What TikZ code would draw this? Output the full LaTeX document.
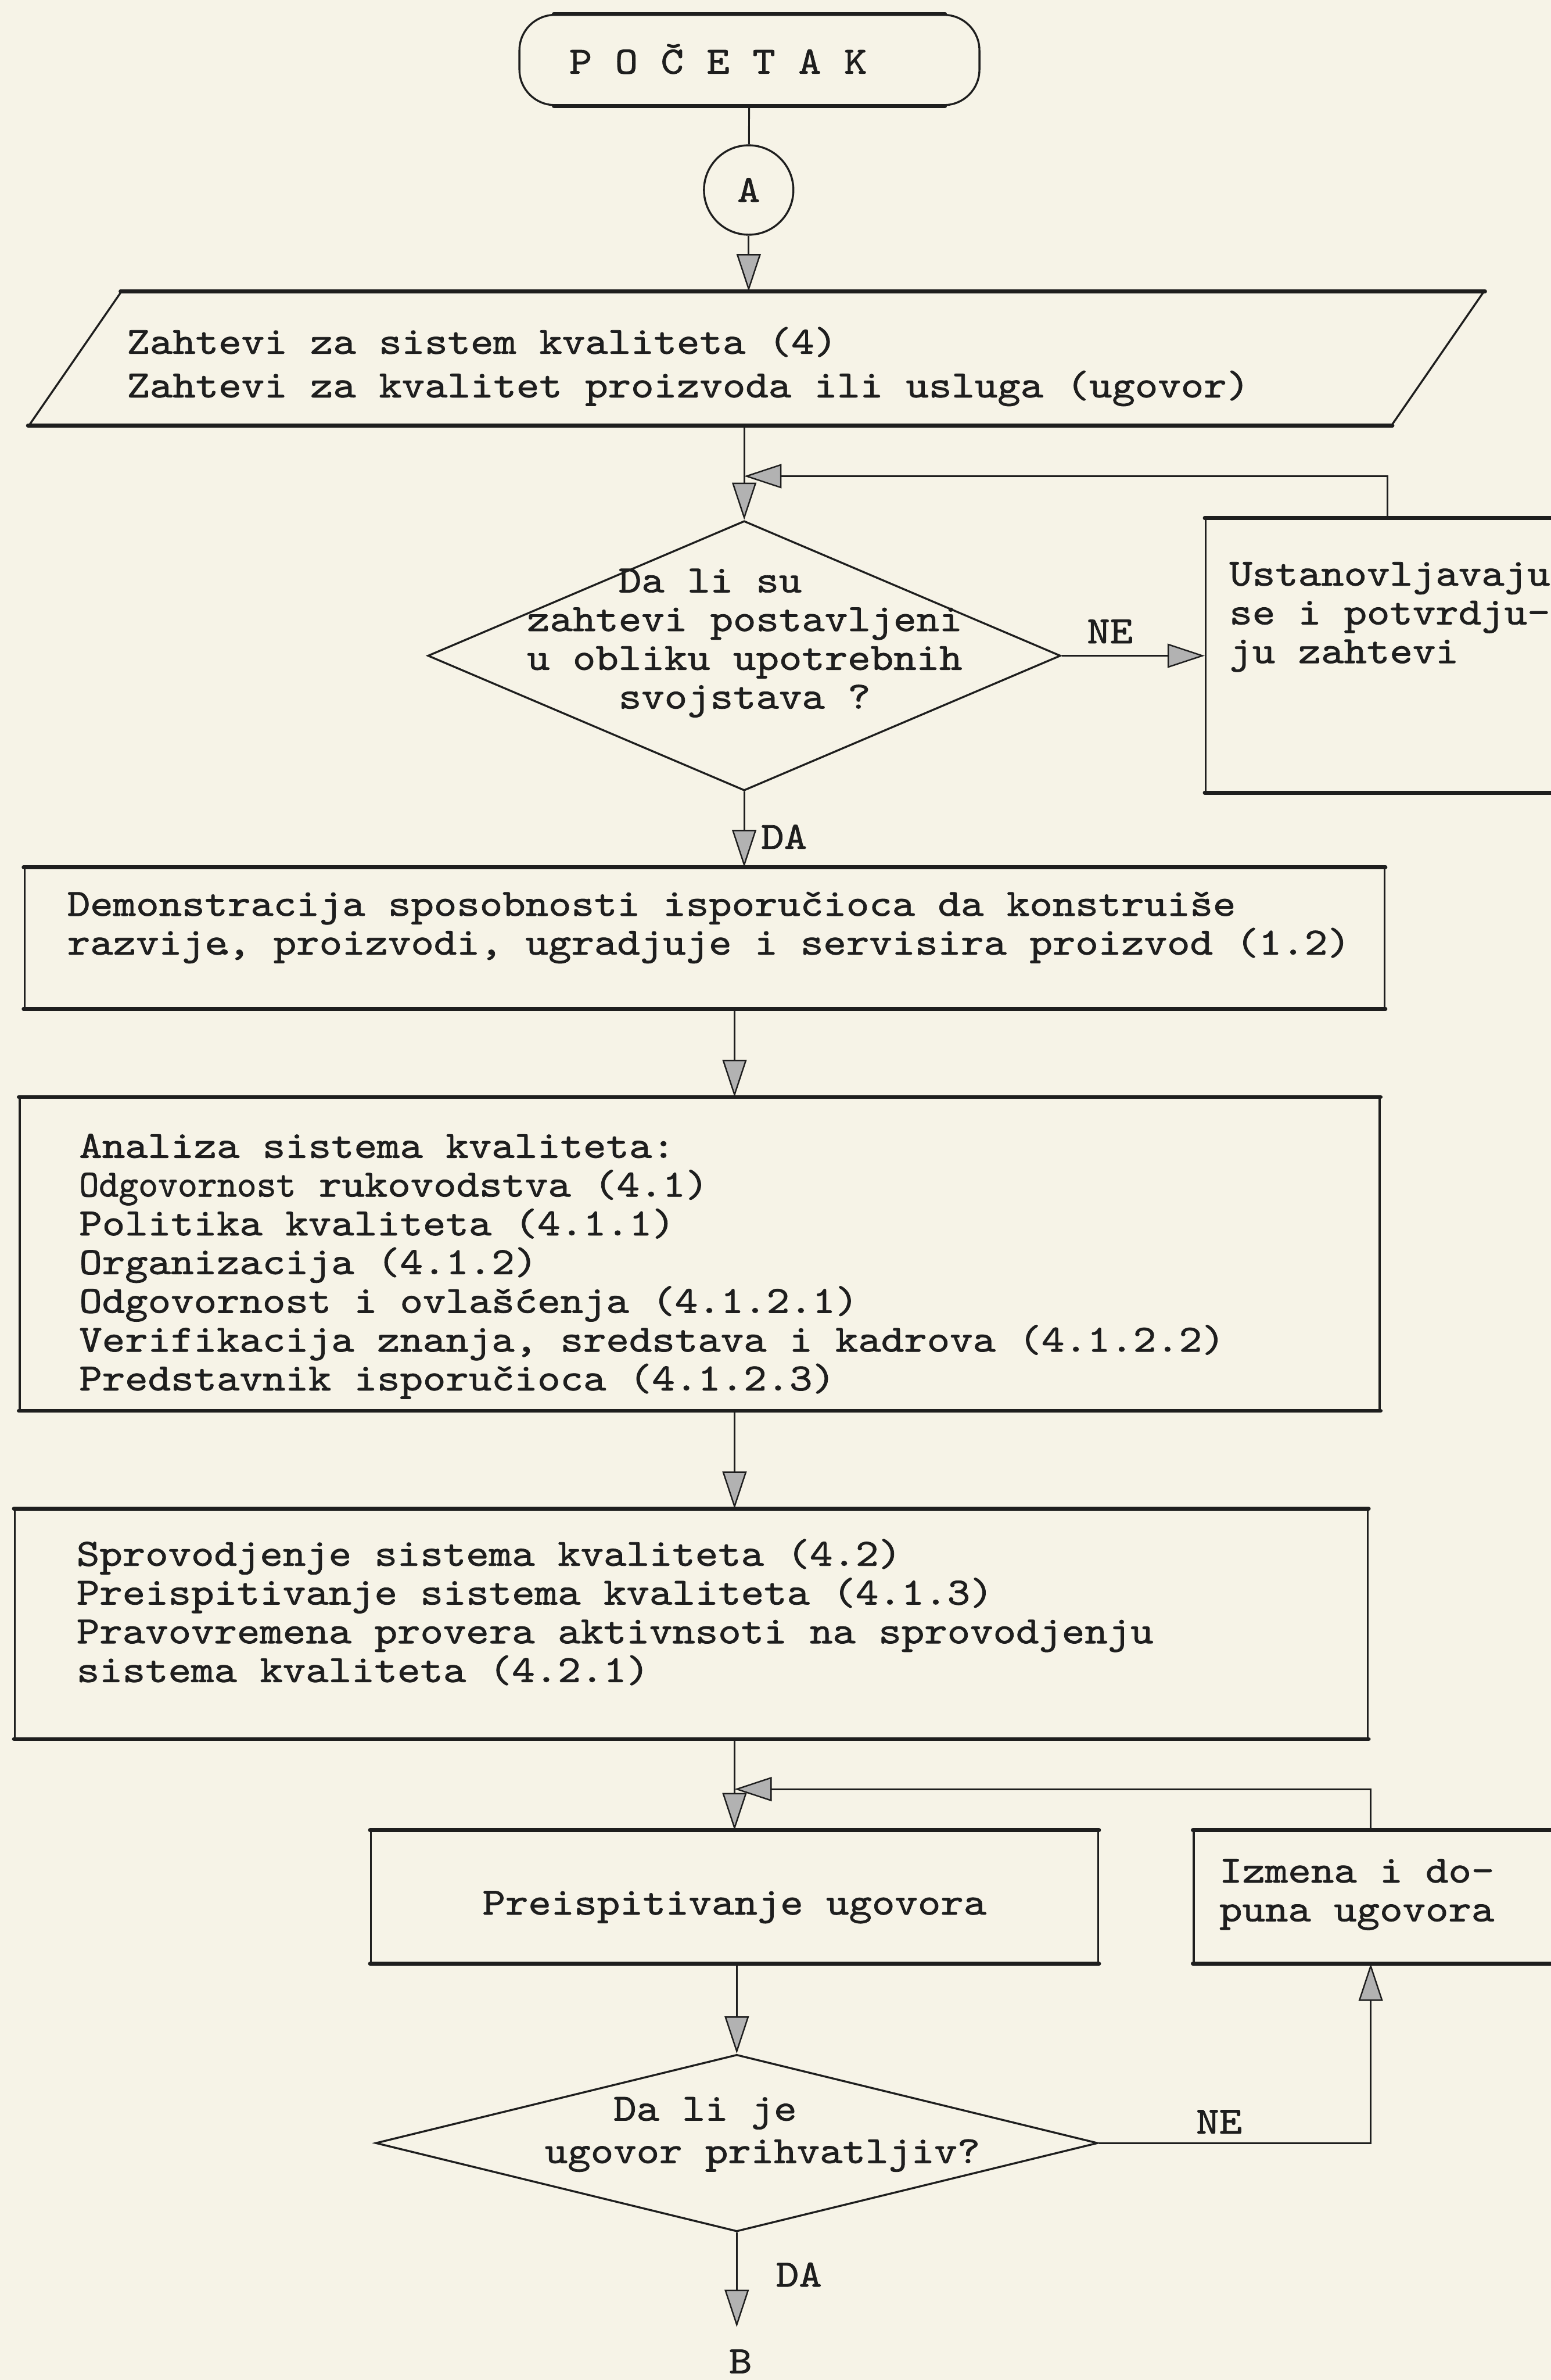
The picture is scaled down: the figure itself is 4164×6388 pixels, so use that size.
\documentclass[tikz,border=0pt]{standalone}
\usepackage{fontspec}
\setmonofont{lmmono10-regular.otf}[FakeStretch=1.134, FakeBold=1.2]
\usepackage{graphicx}
\usetikzlibrary{shapes.geometric,arrows.meta,calc}
\definecolor{paper}{RGB}{246,243,231}
\definecolor{ink}{RGB}{30,30,30}
\newcommand\typefont{\ttfamily\fontsize{29.4pt}{29.6pt}\selectfont}
\tikzset{
  box/.style={draw=ink, line width=1.5pt, inner sep=0pt},
  heavy/.style={draw=ink, line width=3pt, line cap=round},
  flowline/.style={draw=ink, line width=1.3pt},
  arrowline/.style={flowline, -{Triangle[length=10mm,width=6.5mm,fill=gray!60,line width=1.1pt]}},
  txt/.style={inner sep=0pt, align=left, anchor=west, text=ink, font=\typefont},
  lbl/.style={inner sep=0pt, text=ink, font=\typefont},
}
\begin{document}
\begin{tikzpicture}[x=0.1mm,y=-0.1mm]
\fill[paper] (0,0) rectangle (4164,6388);
\useasboundingbox (0,0) rectangle (4164,6388);
\clip (0,0) rectangle (4164,6388);

% start and connector A
\node[box, rectangle, rounded corners=9.5mm, minimum width=123.5mm, minimum height=24.2mm] (start) at (2012,161) {};
\node[lbl] (start-t) at (1928,158) {P O Č E T A K};
\node[box, circle, minimum size=24mm, font=\typefont, text=ink] (A) at (2010,510) {A};

% input: requirements (slanted box)
\node[box, rectangle, xslant=0.69, transform shape, minimum width=365.8mm, minimum height=35.5mm] (req) at (2031,962) {};
\node[txt] (req-t) at (340,984) {Zahtevi za sistem kvaliteta (4)\\[1.3mm]Zahtevi za kvalitet proizvoda ili usluga (ugovor)};

% first decision
\node[box, diamond, minimum width=169.9mm, minimum height=72.4mm] (q1) at (1998,1760) {};
\node[txt] (q1-t) at (1414,1726) {\phantom{xxxx}Da li su\\zahtevi postavljeni\\u obliku upotrebnih\\\phantom{xxxx}svojstava ?};

\node[box, rectangle, minimum width=116.3mm, minimum height=73.2mm] (fix1) at (3818.5,1759) {};
\node[txt] (fix1-t) at (3300,1656) {Ustanovljavaju\\se i potvrdju-\\ju zahtevi};

\node[lbl] (ne1) at (2980,1695) {NE};
\node[lbl] (da1) at (2105,2246) {DA};

% process boxes
\node[box, rectangle, minimum width=365.1mm, minimum height=37.5mm] (demo) at (1891.5,2517.5) {};
\node[txt] (demo-t) at (180,2489) {Demonstracija sposobnosti isporučioca da konstruiše\\razvije\rlap{\kern-0.37em.}, proizvodi, ugradjuje i servisira proizvod (1.2)};

\node[box, rectangle, minimum width=365.1mm, minimum height=83.7mm] (anal) at (1878.5,3365.5) {};
\node[txt] (anal-t) at (212,3399) {Analiza sistema kvaliteta:\\\scalebox{0.86}[1]{Odgovornost} rukovodstva (4.1)\\Politika kvaliteta (4.1.1)\\Organizacija (4.1.2)\\Odgovornost i ovlašćenja (4.1.2.1)\\Verifikacija znanja, sredstava i kadrova (4.1.2.2)\\Predstavnik isporučioca (4.1.2.3)};

\node[box, rectangle, minimum width=363.2mm, minimum height=61.3mm] (sprov) at (1856,4358.5) {};
\node[txt] (sprov-t) at (205,4327) {Sprovodjenje sistema kvaliteta (4.2)\\Preispitivanje sistema kvaliteta (4.1.3)\\Pravovremena provera aktivnsoti na sprovodjenju\\sistema kvaliteta (4.2.1)};

\node[box, rectangle, minimum width=195.2mm, minimum height=35.3mm] (rev) at (1972,5091.5) {};
\node[lbl] (rev-t) at (1972,5119) {Preispitivanje ugovora};

\node[box, rectangle, minimum width=119.5mm, minimum height=35.3mm] (amend) at (3802.5,5091.5) {};
\node[txt] (amend-t) at (3273,5085) {Izmena i do-\\puna ugovora};

% second decision
\node[box, diamond, minimum width=193.9mm, minimum height=47.5mm] (q2) at (1978,5752) {};
\node[txt] (q2-t) at (1462,5729) {\phantom{xxx}Da li je\\[1mm]ugovor prihvatljiv?};
\node[lbl] (ne2) at (3273,5695) {NE};
\node[lbl] (da2) at (2145,6105) {DA};
\node[lbl] (B) at (1988,6338) {B};

% heavier horizontal edges of the boxes
\foreach \n in {req,fix1,demo,anal,sprov,rev,amend}
  \draw[heavy] (\n.north west) -- (\n.north east) (\n.south west) -- (\n.south east);
\draw[heavy] ([xshift=9.5mm]start.north west) -- ([xshift=-9.5mm]start.north east)
             ([xshift=9.5mm]start.south west) -- ([xshift=-9.5mm]start.south east);

% connectors
\coordinate (fb1) at (3725,1278);
\coordinate (fb2) at (3680,4802);
\draw[flowline] (start) -- (A);
\draw[arrowline] (A) -- (A |- req.north);
\draw[arrowline] (q1.north |- req.south) -- (q1.north);
\draw[arrowline] (fix1.north -| fb1) -- (fb1) -- (fb1 -| q1.north);
\draw[arrowline] (q1.east) -- (fix1.west |- q1.east);
\draw[arrowline] (q1.south) -- (q1.south |- demo.north);
\draw[arrowline] (demo.south -| rev.north) -- (anal.north -| rev.north);
\draw[arrowline] (anal.south -| rev.north) -- (sprov.north -| rev.north);
\draw[arrowline] (sprov.south -| rev.north) -- (rev.north);
\draw[arrowline] (amend.north -| fb2) -- (fb2) -- (fb2 -| rev.north);
\draw[arrowline] (rev.south -| q2.north) -- (q2.north);
\draw[arrowline] (q2.east) -- (q2.east -| fb2) -- (fb2 |- amend.south);
\draw[arrowline, shorten >=6mm] (q2.south) -- (q2.south |- B.north);
\end{tikzpicture}
\end{document}
